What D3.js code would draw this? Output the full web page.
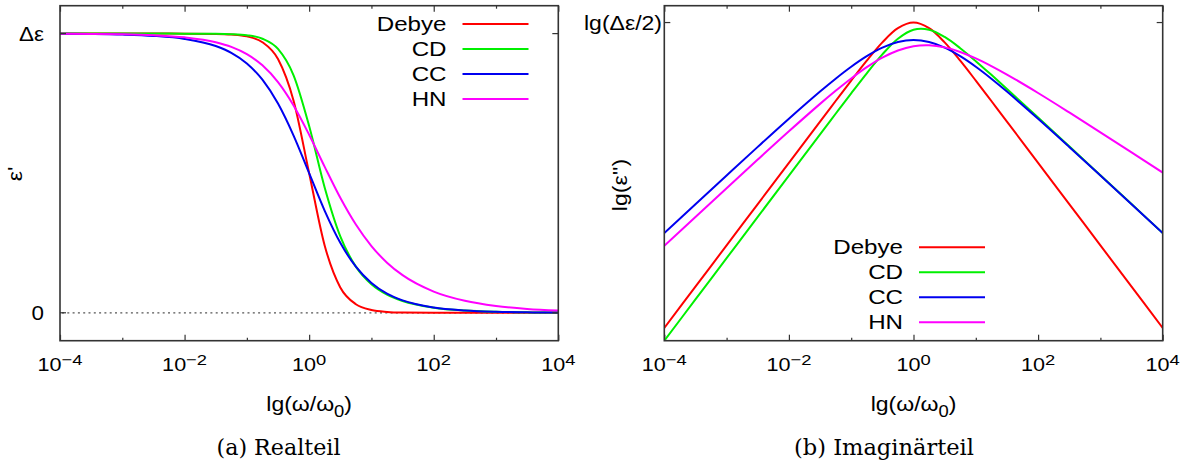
<!DOCTYPE html>
<html><head><meta charset="utf-8">
<script src="https://cdn.jsdelivr.net/npm/d3@7"></script>
<style>body{margin:0;background:#fff}svg{display:block}</style>
</head><body>
<svg id="chart" width="1196" height="466"></svg>
<script>
// ---------- data ----------
const lgOmega = [-4, -3.5, -3, -2.5, -2, -1.5, -1.25, -1, -0.75, -0.5, -0.25, 0, 0.25, 0.5, 0.75, 1, 1.25, 1.5, 2, 2.5, 3, 3.5, 4];
const seriesNames = ["Debye", "CD", "CC", "HN"];

const realDebye = [1.0, 1.0, 1.0, 1.0, 0.9999, 0.999, 0.9968, 0.9901, 0.9693, 0.9091, 0.7597, 0.5, 0.2403, 0.0909, 0.0307, 0.0099, 0.0032, 0.001, 0.0001, 0.0, 0.0, 0.0, 0.0];
const realCD    = [1.0, 1.0, 1.0, 1.0, 0.9999, 0.9994, 0.9981, 0.9941, 0.9817, 0.9451, 0.8506, 0.6690, 0.4479, 0.2735, 0.1654, 0.1024, 0.0651, 0.0422, 0.0183, 0.0081, 0.0036, 0.0016, 0.0007];
const realCC    = [0.9993, 0.9984, 0.9964, 0.9918, 0.9811, 0.9555, 0.9312, 0.8932, 0.8349, 0.7493, 0.6347, 0.5, 0.3653, 0.2507, 0.1651, 0.1068, 0.0688, 0.0445, 0.0189, 0.0083, 0.0036, 0.0016, 0.0007];
const realHN    = [0.9995, 0.9989, 0.9975, 0.9942, 0.9868, 0.9693, 0.9526, 0.9266, 0.8863, 0.8263, 0.7427, 0.6379, 0.5228, 0.4119, 0.3161, 0.2390, 0.1796, 0.1347, 0.0760, 0.0430, 0.0244, 0.0139, 0.0079];

const imagDebye = [1.0e-4, 3.162e-4, 1.0e-3, 3.162e-3, 0.0100, 0.03159, 0.05606, 0.09901, 0.1724, 0.2875, 0.4272, 0.5, 0.4272, 0.2875, 0.1724, 0.09901, 0.05606, 0.03159, 0.0100, 3.162e-3, 1.0e-3, 3.162e-4, 1.0e-4];
const imagCD    = [7.0e-5, 2.214e-4, 7.0e-4, 2.214e-3, 0.00700, 0.02212, 0.03927, 0.06947, 0.1215, 0.2058, 0.3187, 0.4099, 0.4098, 0.3344, 0.2447, 0.1704, 0.1162, 0.07848, 0.03535, 0.01583, 0.007075, 0.003161, 0.001412];
const imagCC    = [0.00141, 0.003151, 0.007026, 0.01559, 0.03418, 0.07293, 0.1044, 0.1456, 0.1955, 0.2480, 0.2900, 0.3064, 0.2900, 0.2480, 0.1955, 0.1456, 0.1044, 0.07293, 0.03418, 0.01559, 0.007026, 0.003151, 0.00141];
const imagHN    = [0.000987, 0.002207, 0.004924, 0.01094, 0.02406, 0.05174, 0.07457, 0.1052, 0.1440, 0.1880, 0.2297, 0.2584, 0.2654, 0.2503, 0.2203, 0.1842, 0.1487, 0.1173, 0.07009, 0.04076, 0.02341, 0.01337, 0.007621];

const xTickExponents = [-4, -3, -2, -1, 0, 1, 2, 3, 4];
const xLabelExponents = [-4, -2, 0, 2, 4];
const realTickValues = [0, 1];
const realTickLabels = ["0", "Δε"];
const imagTickValues = [0.5];
const imagTickLabels = ["lg(Δε/2)"];

// ---------- styles ----------
const colors = ["#ff0000", "#00f000", "#0000f0", "#ff00ff"];
const SANS = "'Liberation Sans', Arial, Helvetica, sans-serif";
const SERIF = "'DejaVu Serif', serif";
const FRAME = "#333";

const svg = d3.select("#chart");

const plotTop = 5.7, plotBottom = 340.7;
const xL = d3.scaleLog().domain([1e-4, 1e4]).range([60, 558.3]);
const yL = d3.scaleLinear().domain([-0.1, 1.1]).range([plotBottom, plotTop]);
const xR = d3.scaleLog().domain([1e-4, 1e4]).range([664.3, 1162.7]);
const yR = d3.scaleLog().domain([7e-5, 0.8]).range([plotBottom, plotTop]);

// text helper: parts = [[string, kind]] kind in n/sup/sub
function label(parent, x, y, parts, o) {
  const tr = `translate(${x},${y})` + (o.rotate ? ` rotate(${o.rotate})` : "") + ` scale(${o.sx || 1},1)`;
  const g = parent.append("g").attr("transform", tr);
  const t = g.append("text")
    .attr("text-anchor", o.anchor || "middle")
    .attr("font-family", o.family || SANS)
    .attr("font-size", o.size)
    .attr("fill", "#000");
  if (o.textLength) t.attr("textLength", o.textLength).attr("lengthAdjust", "spacingAndGlyphs");
  let shift = 0;
  parts.forEach(([s, kind]) => {
    const ts = t.append("tspan").text(s);
    let target = 0, fs = o.size;
    if (kind === "sup") { target = -(o.supRaise || o.size * 0.42); fs = o.size * (o.supScale || 0.8); }
    if (kind === "sub") { target = o.size * 0.3; fs = o.size * 0.8; }
    ts.attr("font-size", fs);
    if (target !== shift) { ts.attr("dy", target - shift); shift = target; }
  });
  return g;
}

function panel(id, xs) {
  const [x0, x1] = xs.range();
  const clipId = "clip" + id;
  svg.append("clipPath").attr("id", clipId).append("rect")
    .attr("x", x0).attr("y", plotTop).attr("width", x1 - x0).attr("height", plotBottom - plotTop);
  const g = svg.append("g");
  const major = xTickExponents.filter(e => e % 2 === 0).map(e => Math.pow(10, e));
  const minor = xTickExponents.filter(e => e % 2 !== 0).map(e => Math.pow(10, e));
  const axisStyle = sel => { sel.select(".domain").remove(); sel.selectAll("line").attr("stroke", FRAME).attr("stroke-width", 1.2); sel.selectAll("text").remove(); };
  g.append("g").attr("transform", `translate(0,${plotBottom})`).call(d3.axisBottom(xs).tickValues(major).tickSize(-6)).call(axisStyle);
  g.append("g").attr("transform", `translate(0,${plotBottom})`).call(d3.axisBottom(xs).tickValues(minor).tickSize(-3)).call(axisStyle);
  g.append("g").attr("transform", `translate(0,${plotTop})`).call(d3.axisTop(xs).tickValues(major).tickSize(-6)).call(axisStyle);
  g.append("g").attr("transform", `translate(0,${plotTop})`).call(d3.axisTop(xs).tickValues(minor).tickSize(-3)).call(axisStyle);
  return { g, clipId };
}

function drawCurves(p, xs, ys, seriesList, curve) {
  const line = d3.line()
    .x((d, i) => xs(Math.pow(10, lgOmega[i])))
    .y(d => ys(d))
    .curve(curve);
  seriesList.forEach((vals, k) => {
    p.g.append("path").datum(vals)
      .attr("clip-path", `url(#${p.clipId})`)
      .attr("d", line)
      .attr("fill", "none")
      .attr("stroke", colors[k])
      .attr("stroke-width", 2)
      .attr("stroke-linejoin", "round");
  });
}

function frame(p, xs) {
  const [x0, x1] = xs.range();
  p.g.append("rect").attr("x", x0).attr("y", plotTop).attr("width", x1 - x0).attr("height", plotBottom - plotTop)
    .attr("fill", "none").attr("stroke", FRAME).attr("stroke-width", 1.6);
}

function yTick(p, xs, y) {
  const [x0, x1] = xs.range();
  p.g.append("line").attr("x1", x0).attr("x2", x0 + 6).attr("y1", y).attr("y2", y).attr("stroke", FRAME).attr("stroke-width", 1.2);
  p.g.append("line").attr("x1", x1 - 6).attr("x2", x1).attr("y1", y).attr("y2", y).attr("stroke", FRAME).attr("stroke-width", 1.2);
}

function xLabels(xs) {
  xLabelExponents.forEach(e => {
    const s = e < 0 ? "\u2212" + Math.abs(e) : String(e);
    label(svg, xs(Math.pow(10, e)), 371, [["10", "n"], [s, "sup"]], { size: 18, sx: 1.2, supScale: 0.85, supRaise: 6.5 });
  });
  const [x0, x1] = xs.range();
  label(svg, (x0 + x1) / 2, 411, [["lg(ω/ω", "n"], ["0", "sub"], [")", "n"]], { size: 20, sx: 1.15 });
}

function legend(x, y0) {
  seriesNames.forEach((name, k) => {
    const y = y0 + k * 25;
    label(svg, x, y + 7, [[name, "n"]], { size: 21, sx: 1.15, anchor: "end" });
    svg.append("line").attr("x1", x + 16).attr("x2", x + 82).attr("y1", y).attr("y2", y)
      .attr("stroke", colors[k]).attr("stroke-width", 2);
  });
}

// ---------- left panel: real part ----------
const pL = panel("L", xL);
pL.g.append("line").attr("x1", xL.range()[0] + 2).attr("x2", xL.range()[1]).attr("y1", yL(0)).attr("y2", yL(0))
  .attr("stroke", "#555").attr("stroke-width", 1.2).attr("stroke-dasharray", "2,3.3");
drawCurves(pL, xL, yL, [realDebye, realCD, realCC, realHN], d3.curveMonotoneX);
realTickValues.forEach(v => yTick(pL, xL, yL(v)));
frame(pL, xL);
realTickLabels.forEach((s, i) => label(svg, 44, yL(realTickValues[i]) + 7.2, [[s, "n"]], { size: 20, sx: 1.12, anchor: "end" }));
label(svg, 22, 174, [["ε'", "n"]], { size: 20, sx: 1.15, rotate: -90 });
xLabels(xL);
legend(446.5, 24);

// ---------- right panel: imaginary part ----------
const pR = panel("R", xR);
drawCurves(pR, xR, yR, [imagDebye, imagCD, imagCC, imagHN], d3.curveCatmullRom);
imagTickValues.forEach(v => yTick(pR, xR, yR(v)));
frame(pR, xR);
imagTickLabels.forEach((s, i) => label(svg, 662, yR(imagTickValues[i]) + 7, [[s, "n"]], { size: 20, sx: 1.15, anchor: "end" }));
label(svg, 627, 185, [["lg(ε'')", "n"]], { size: 20, sx: 1.15, rotate: -90 });
xLabels(xR);
legend(903, 247.3);

// ---------- captions ----------
label(svg, 278.5, 455, [["(a) Realteil", "n"]], { size: 22, family: SERIF, textLength: 124 });
label(svg, 884, 455, [["(b) Imaginärteil", "n"]], { size: 22, family: SERIF, textLength: 180 });
</script>
</body></html>
